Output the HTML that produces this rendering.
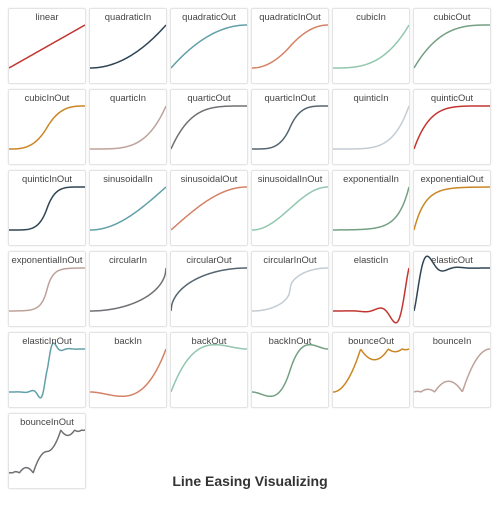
<!DOCTYPE html>
<html><head><meta charset="utf-8"><style>
body{margin:0;width:500px;height:506px;background:#fff;font-family:"Liberation Sans",sans-serif;position:relative;overflow:hidden}
.cell{position:absolute;width:76px;height:74px;border:1px solid #e4e4e4;border-radius:2px;box-shadow:0 0 2px rgba(0,0,0,0.08);overflow:hidden;background:#fff}
.cell svg{position:absolute;left:0;top:0}
.lbl{position:absolute;top:2px;left:0;width:100%;text-align:center;font-size:9.4px;color:#444}
#title{position:absolute;top:473px;left:0;width:500px;text-align:center;font-size:14px;font-weight:bold;color:#333}
</style></head><body>
<div id="grid"></div>
<div id="title">Line Easing Visualizing</div>
<script>
const names=["linear","quadraticIn","quadraticOut","quadraticInOut","cubicIn","cubicOut","cubicInOut","quarticIn","quarticOut","quarticInOut","quinticIn","quinticOut","quinticInOut","sinusoidalIn","sinusoidalOut","sinusoidalInOut","exponentialIn","exponentialOut","exponentialInOut","circularIn","circularOut","circularInOut","elasticIn","elasticOut","elasticInOut","backIn","backOut","backInOut","bounceOut","bounceIn","bounceInOut"];
const colors=["#c23531","#2f4554","#61a0a8","#d48265","#91c7ae","#749f83","#ca8622","#bda29a","#6e7074","#546570","#c4ccd3"];
const E={
linear:k=>k,
quadraticIn:k=>k*k,quadraticOut:k=>k*(2-k),quadraticInOut:k=>(k*=2)<1?0.5*k*k:-0.5*(--k*(k-2)-1),
cubicIn:k=>k*k*k,cubicOut:k=>--k*k*k+1,cubicInOut:k=>(k*=2)<1?0.5*k*k*k:0.5*((k-=2)*k*k+2),
quarticIn:k=>k*k*k*k,quarticOut:k=>1-(--k*k*k*k),quarticInOut:k=>(k*=2)<1?0.5*k*k*k*k:-0.5*((k-=2)*k*k*k-2),
quinticIn:k=>k*k*k*k*k,quinticOut:k=>--k*k*k*k*k+1,quinticInOut:k=>(k*=2)<1?0.5*k*k*k*k*k:0.5*((k-=2)*k*k*k*k+2),
sinusoidalIn:k=>1-Math.cos(k*Math.PI/2),sinusoidalOut:k=>Math.sin(k*Math.PI/2),sinusoidalInOut:k=>0.5*(1-Math.cos(Math.PI*k)),
exponentialIn:k=>k===0?0:Math.pow(1024,k-1),exponentialOut:k=>k===1?1:1-Math.pow(2,-10*k),
exponentialInOut:k=>{if(k===0)return 0;if(k===1)return 1;if((k*=2)<1)return 0.5*Math.pow(1024,k-1);return 0.5*(-Math.pow(2,-10*(k-1))+2);},
circularIn:k=>1-Math.sqrt(1-k*k),circularOut:k=>Math.sqrt(1-(--k*k)),
circularInOut:k=>(k*=2)<1?-0.5*(Math.sqrt(1-k*k)-1):0.5*(Math.sqrt(1-(k-=2)*k)+1),
elasticIn:k=>{let s,a=0.1,p=0.4;if(k===0)return 0;if(k===1)return 1;a=1;s=p/4;return -(a*Math.pow(2,10*(k-=1))*Math.sin((k-s)*(2*Math.PI)/p));},
elasticOut:k=>{let s,a=0.1,p=0.4;if(k===0)return 0;if(k===1)return 1;a=1;s=p/4;return a*Math.pow(2,-10*k)*Math.sin((k-s)*(2*Math.PI)/p)+1;},
elasticInOut:k=>{let s,a=0.1,p=0.4;if(k===0)return 0;if(k===1)return 1;a=1;s=p/4;if((k*=2)<1)return -0.5*(a*Math.pow(2,10*(k-=1))*Math.sin((k-s)*(2*Math.PI)/p));return a*Math.pow(2,-10*(k-=1))*Math.sin((k-s)*(2*Math.PI)/p)*0.5+1;},
backIn:k=>{const s=1.70158;return k*k*((s+1)*k-s);},
backOut:k=>{const s=1.70158;return --k*k*((s+1)*k+s)+1;},
backInOut:k=>{const s=1.70158*1.525;if((k*=2)<1)return 0.5*(k*k*((s+1)*k-s));return 0.5*((k-=2)*k*((s+1)*k+s)+2);},
bounceOut:k=>{if(k<1/2.75)return 7.5625*k*k;else if(k<2/2.75)return 7.5625*(k-=1.5/2.75)*k+0.75;else if(k<2.5/2.75)return 7.5625*(k-=2.25/2.75)*k+0.9375;return 7.5625*(k-=2.625/2.75)*k+0.984375;},
};
E.bounceIn=k=>1-E.bounceOut(1-k);
E.bounceInOut=k=>k<0.5?E.bounceIn(k*2)*0.5:E.bounceOut(k*2-1)*0.5+0.5;
const samples=[];for(let i=0;i<=100;i++)samples.push(i/100);
const W=76,H=74,y0=59,yS=43;
const xf=x=>x*W, yf=v=>y0-v*yS;
const grid=document.getElementById('grid');
names.forEach((n,i)=>{
  const c=document.createElement('div');
  c.className='cell';
  
  
  c.style.left=(8+(i%6)*81)+'px';
  c.style.top=(8+Math.floor(i/6)*81)+'px';
  const pts=samples.map(x=>xf(x).toFixed(2)+','+yf(E[n](x)).toFixed(2)).join(' ');
  c.innerHTML='<svg width="'+W+'" height="'+H+'"><polyline points="'+pts+'" fill="none" stroke="'+colors[i%colors.length]+'" stroke-width="1.5" stroke-linejoin="round"/></svg>';
  const l=document.createElement('div');
  l.className='lbl';l.textContent=n;
  
  
  c.appendChild(l);
  c.querySelector('polyline');
  c.querySelector('polyline');
  grid.appendChild(c);
});
</script>
</body></html>
